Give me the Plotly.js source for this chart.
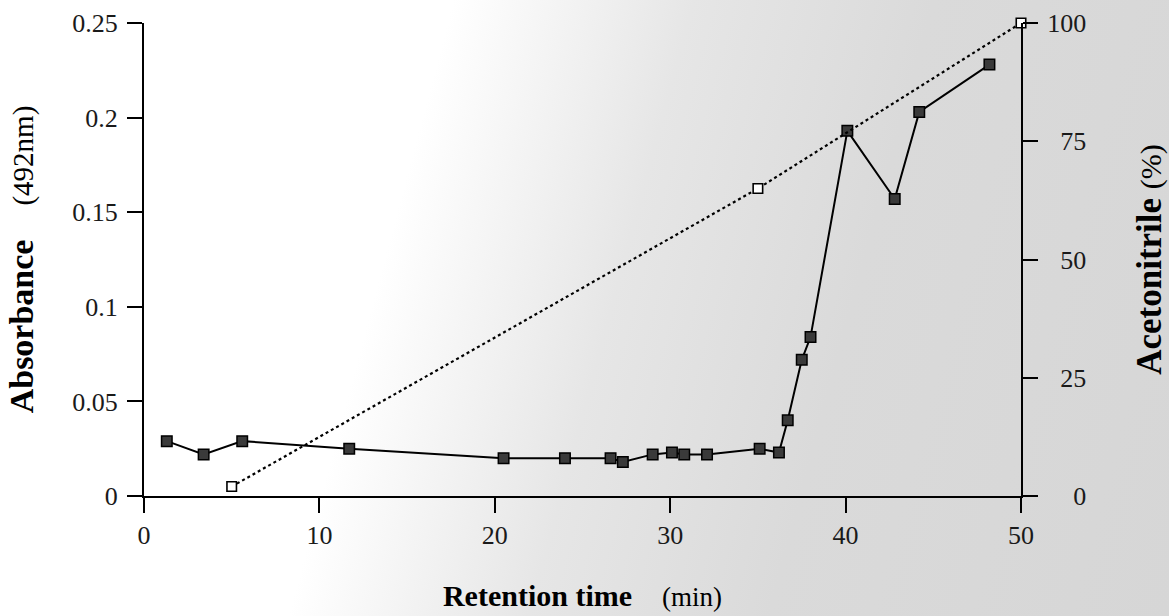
<!DOCTYPE html>
<html><head><meta charset="utf-8">
<script src="https://cdn.plot.ly/plotly-3.0.1.min.js"></script>
<style>
html,body{margin:0;padding:0;background:#fff;}
#chart{width:1169px;height:616px;background:linear-gradient(105deg,#ffffff 0%,#ffffff 34%,#e6e6e6 52%,#dadada 70%,#d6d6d6 100%);}
</style></head>
<body><div id="chart"></div>
<script>
// Absorbance (492 nm) of collected fractions
const retentionTime = [1.3, 3.4, 5.6, 11.7, 20.5, 24.0, 26.6, 27.3, 29.0, 30.1, 30.8, 32.1, 35.1, 36.2, 36.7, 37.5, 38.0, 40.1, 42.8, 44.2, 48.2];
const absorbance    = [0.029, 0.022, 0.029, 0.025, 0.020, 0.020, 0.020, 0.018, 0.022, 0.023, 0.022, 0.022, 0.025, 0.023, 0.040, 0.072, 0.084, 0.193, 0.157, 0.203, 0.228];
// Acetonitrile gradient
const gradientTime  = [5, 35, 50];
const acetonitrile  = [2, 65, 100];
// Tick labels
const xTicks   = [0, 10, 20, 30, 40, 50];
const yTicks   = [0, 0.05, 0.1, 0.15, 0.2, 0.25];
const yLabels  = ['0', '0.05', '0.1', '0.15', '0.2', '0.25'];
const y2Ticks  = [0, 25, 50, 75, 100];
const y2Labels = ['\u2007\u20070', '\u200725', '\u200750', '\u200775', '100'];

const serif = 'Liberation Serif, Times New Roman, serif';
const tickFont = {family: serif, size: 26, color: '#1a1a1a'};

const traces = [
  {
    x: gradientTime, y: acetonitrile, yaxis: 'y2', type: 'scatter', mode: 'lines+markers',
    line: {color: '#000', width: 2.2, dash: 'dot'},
    marker: {symbol: 'square', size: 9.5, color: '#fff', line: {color: '#000', width: 1.6}},
    cliponaxis: false, hoverinfo: 'x+y'
  },
  {
    x: retentionTime, y: absorbance, type: 'scatter', mode: 'lines+markers',
    line: {color: '#000', width: 2},
    marker: {symbol: 'square', size: 10.5, color: '#3a3a3a', line: {color: '#000', width: 1.5}},
    cliponaxis: false, hoverinfo: 'x+y'
  }
];

const axisCommon = {
  showgrid: false, zeroline: false, showline: true, linecolor: '#000', linewidth: 2,
  ticks: 'outside', ticklen: 15, tickwidth: 2, tickcolor: '#000', tickfont: tickFont
};

const layout = {
  width: 1169, height: 616,
  margin: {l: 143.5, r: 147.5, t: 23, b: 120},
  paper_bgcolor: 'rgba(0,0,0,0)', plot_bgcolor: 'rgba(0,0,0,0)',
  showlegend: false,
  xaxis: Object.assign({}, axisCommon, {
    range: [0, 50], tickmode: 'array', tickvals: xTicks, ticklabelstandoff: 0,
    title: {text: '<b>Retention time</b>\u00a0\u00a0\u00a0\u00a0<span style="font-size:27px">(min)</span>',
            font: {family: serif, size: 30, color: '#000'}, standoff: 36}
  }),
  yaxis: Object.assign({}, axisCommon, {
    range: [0, 0.25], tickmode: 'array', tickvals: yTicks, ticktext: yLabels, ticklabelstandoff: 4,
    title: {text: '<b>Absorbance</b>\u00a0\u00a0\u00a0\u00a0<span style="font-size:29px">(492nm)</span>\u00a0\u00a0\u00a0\u00a0',
            font: {family: serif, size: 34, color: '#000'}, standoff: 28}
  }),
  yaxis2: Object.assign({}, axisCommon, {
    overlaying: 'y', side: 'right', range: [0, 100], tickmode: 'array',
    tickvals: y2Ticks, ticktext: y2Labels, ticklabelstandoff: 4,
    title: {text: '<b>Acetonitrile</b>\u00a0<span style="font-size:30px">(%)</span>',
            font: {family: serif, size: 35, color: '#000'}, standoff: 52}
  })
};

Plotly.newPlot('chart', traces, layout, {displayModeBar: false, staticPlot: true});
</script>
</body></html>
